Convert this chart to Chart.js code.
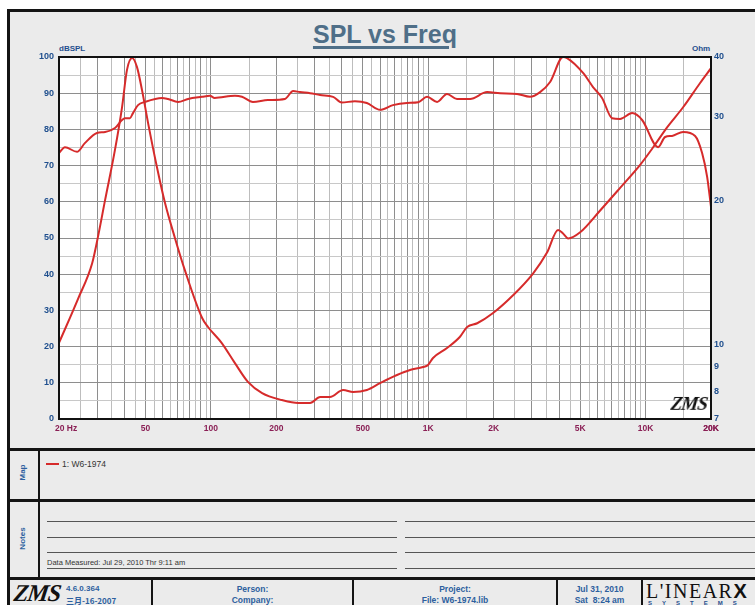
<!DOCTYPE html>
<html><head><meta charset="utf-8">
<script src="https://cdn.jsdelivr.net/npm/chart.js@4.4.1/dist/chart.umd.min.js"></script>
<style>
html,body{margin:0;padding:0;background:#fff;}
#page{position:relative;width:755px;height:605px;overflow:hidden;font-family:"Liberation Sans",Arial,sans-serif;}
.a{position:absolute;white-space:nowrap;}
.bar{position:absolute;background:#141414;}
.blue{color:#2d5f9e;font-weight:bold;}
.nl{position:absolute;height:1px;background:#555;}
</style></head><body>
<div id="page">
  <div class="a" style="left:7px;top:9px;width:800px;height:700px;background:#ebebeb;"></div>
  <div class="bar" style="left:7px;top:9px;width:800px;height:3px"></div>
  <div class="bar" style="left:7px;top:9px;width:3px;height:700px"></div>
  <div class="bar" style="left:7px;top:448px;width:800px;height:3px"></div>
  <div class="bar" style="left:7px;top:499px;width:800px;height:3px"></div>
  <div class="bar" style="left:7px;top:577px;width:800px;height:3px"></div>
  <div class="bar" style="left:38px;top:450px;width:2px;height:128px"></div>
  <div class="bar" style="left:151px;top:579px;width:2px;height:30px"></div>
  <div class="bar" style="left:352px;top:579px;width:2px;height:30px"></div>
  <div class="bar" style="left:556px;top:579px;width:2px;height:30px"></div>
  <div class="bar" style="left:641px;top:579px;width:2px;height:30px"></div>

  <div class="a" style="left:0;top:22px;width:770px;text-align:center;font-weight:bold;font-size:25px;line-height:25px;color:#4f6f88;text-decoration:underline;text-decoration-thickness:3px;text-underline-offset:3px;">SPL vs Freq</div>
  <div class="a blue" style="left:59px;top:44px;font-size:8px;color:#1f4f8e;">dBSPL</div>
  <div class="a blue" style="left:692px;top:44px;font-size:8px;color:#1f4f8e;">Ohm</div>

  <div class="a" style="left:0;top:0;width:755px;height:450px;"><canvas id="c" width="755" height="450"></canvas></div>

  <div class="a" style="left:671px;top:393px;font-family:'Liberation Serif',serif;font-style:italic;font-size:19px;font-weight:bold;color:#111;transform:skewX(-8deg);letter-spacing:-1px;">ZMS</div>

  <!-- Map section -->
  <div class="a blue" style="left:6px;top:468px;width:32px;text-align:center;font-size:8px;transform:rotate(-90deg);">Map</div>
  <div class="a" style="left:46px;top:463px;width:13px;height:2px;background:#d62b2b;"></div>
  <div class="a" style="left:62px;top:459px;font-size:8.5px;color:#333;">1: W6-1974</div>

  <!-- Notes section -->
  <div class="a blue" style="left:6px;top:534px;width:32px;text-align:center;font-size:8px;transform:rotate(-90deg);">Notes</div>
  <div class="nl" style="left:47px;top:521px;width:350px"></div>
  <div class="nl" style="left:47px;top:537px;width:350px"></div>
  <div class="nl" style="left:47px;top:552px;width:350px"></div>
  <div class="nl" style="left:47px;top:568px;width:350px"></div>
  <div class="nl" style="left:405px;top:521px;width:360px"></div>
  <div class="nl" style="left:405px;top:537px;width:360px"></div>
  <div class="nl" style="left:405px;top:552px;width:360px"></div>
  <div class="nl" style="left:405px;top:568px;width:360px"></div>
  <div class="a" style="left:47px;top:558px;font-size:7.5px;color:#333;">Data Measured: Jul 29, 2010 Thr 9:11 am</div>

  <!-- Footer -->
  <div class="a" style="left:14px;top:580px;font-family:'Liberation Serif',serif;font-style:italic;font-weight:bold;font-size:24px;color:#111;transform:skewX(-8deg);letter-spacing:-1px;">ZMS</div>
  <div class="a blue" style="left:66px;top:584px;font-size:8px;">4.6.0.364</div>
  <div class="a blue" style="left:66px;top:595px;font-size:8px;font-family:'Noto Sans CJK SC','Liberation Sans',sans-serif;">三月-16-2007</div>
  <div class="a blue" style="left:153px;top:584px;width:199px;text-align:center;font-size:8.5px;">Person:</div>
  <div class="a blue" style="left:153px;top:595px;width:199px;text-align:center;font-size:8.5px;">Company:</div>
  <div class="a blue" style="left:354px;top:584px;width:202px;text-align:center;font-size:8.5px;">Project:</div>
  <div class="a blue" style="left:354px;top:595px;width:202px;text-align:center;font-size:8.5px;">File: W6-1974.lib</div>
  <div class="a blue" style="left:558px;top:584px;width:83px;text-align:center;font-size:8.5px;">Jul 31, 2010</div>
  <div class="a blue" style="left:558px;top:595px;width:83px;text-align:center;font-size:8.5px;">Sat &nbsp;8:24 am</div>
  <div class="a" style="left:646px;top:580px;font-family:'Liberation Serif',serif;font-size:20px;letter-spacing:1.5px;color:#111;">L'INEAR<b style="font-family:'Liberation Sans',sans-serif;font-size:20px;letter-spacing:0;">X</b></div>
  <div class="a blue" style="left:648px;top:600px;font-size:6px;letter-spacing:10px;color:#1f4f8e;">SYSTEMS</div>
</div>

<script>
// ---- Data ----
const splFreq = [20,21.3,24.2,26.3,29.9,32.6,36.2,39,40.2,42.4,43.8,46.2,49.8,59.6,63.5,70.6,78.5,91,99,104,129,139,156,183,219,239,257,286,318,365,400,460,522,600,688,798,900,988,1098,1220,1356,1558,1866,2140,2563,2940,3270,3636,4172,4352,5156,5730,6306,7012,7636,8672,9640,11420,12300,13240,14880,16900,18200,19200,20000];
const splDb = [73.5,75.1,73.8,76.2,79.0,79.3,80.4,82.6,83.1,83.1,84.5,86.7,87.6,88.7,88.4,87.6,88.4,89.0,89.3,88.7,89.3,89.0,87.6,88.1,88.4,90.6,90.3,90.0,89.5,89.0,87.4,87.8,87.3,85.4,86.7,87.3,87.5,89.0,87.6,89.8,88.4,88.4,90.3,90.0,89.8,89.0,90.3,93.1,100,99.7,95.6,91.7,88.7,83.1,82.9,84.5,82.6,75.1,77.9,78.2,79.3,78.2,73.5,66.9,58.6];

const impFreq = [20,24.5,28.4,30.2,32.6,36.2,39,41.1,43.4,45.7,48.2,51.4,56.5,61.5,68.4,76,91,97,112,129,148,172,212,252,286,318,353,406,451,522,600,718,824,946,998,1052,1220,1400,1510,1680,1988,2456,3034,3520,3958,4172,4400,5000,6180,7636,9440,10840,12560,14880,17820,20000];
const impOhm = [10.1,12.5,14.8,16.8,20.1,25.6,31.4,37.6,39.8,38.1,34.1,29.1,23.5,19.8,16.7,14.3,11.4,10.9,10.1,9.16,8.37,7.93,7.67,7.56,7.56,7.78,7.78,8.05,7.97,8.05,8.32,8.65,8.86,8.99,9.08,9.39,9.85,10.4,10.9,11.1,11.66,12.7,14.1,15.6,17.4,17.1,16.7,17.2,19.1,21.3,23.8,25.9,28.5,31.4,35.3,37.9];

const xGridMultipliers = [1,1.5,2,2.5,3,3.5,4,4.5,5,5.5,6,6.5,7,7.5,8,8.5,9,9.5];
const xDecades = [10,100,1000,10000];
const xTickLabels = {20:'      20 Hz',50:'50',100:'100',200:'200',500:'500',1000:'1K',2000:'2K',5000:'5K',10000:'10K',20000:'20K'};
const ohmTicks = [7,8,9,10,20,30,40];

// ---- Chart ----
const xGridValues = [];
xDecades.forEach(d => xGridMultipliers.forEach(m => { const v = Math.round(d*m*1000)/1000; if (v >= 20 && v <= 20000) xGridValues.push(v); }));
xGridValues.push(20000);

const splPoints = splFreq.map((f,i) => ({x:f, y:splDb[i]}));
const impPoints = impFreq.map((f,i) => ({x:f, y:impOhm[i]}));

const plotFrame = {
  id:'plotFrame',
  beforeDraw(chart){const {ctx, chartArea:a} = chart; ctx.save(); ctx.fillStyle='#fff'; ctx.fillRect(a.left,a.top,a.width,a.height); ctx.restore();},
  afterDraw(chart){const {ctx, chartArea:a} = chart; ctx.save(); ctx.strokeStyle='#111'; ctx.lineWidth=2; ctx.strokeRect(a.left,a.top,a.width,a.height); ctx.restore();}
};

const tickFontY = {family:'Liberation Sans', size:9, weight:'bold'};
const red = '#d62b2b';

new Chart(document.getElementById('c'), {
  type:'line',
  data:{datasets:[
    {label:'SPL', data:splPoints, yAxisID:'y', borderColor:red, borderWidth:2, pointRadius:0, cubicInterpolationMode:'monotone', fill:false},
    {label:'Impedance', data:impPoints, yAxisID:'y2', borderColor:red, borderWidth:2, pointRadius:0, cubicInterpolationMode:'monotone', fill:false}
  ]},
  options:{
    responsive:false, animation:false, devicePixelRatio:1,
    layout:{padding:{top:57,left:0,right:0,bottom:0}},
    plugins:{legend:{display:false}, tooltip:{enabled:false}},
    scales:{
      x:{type:'logarithmic', min:20, max:20000, position:'bottom',
        afterBuildTicks(s){ s.ticks = xGridValues.map(v => ({value:v})); },
        afterFit(s){ s.height = 31; },
        border:{display:false},
        grid:{drawTicks:false, lineWidth:1, color(ctx){ const v = ctx.tick ? ctx.tick.value : 0; const m = v/Math.pow(10,Math.floor(Math.log10(v)+1e-9)); return Math.abs(m-Math.round(m))<1e-6 ? '#8e8e8e' : '#bdbdbd'; }},
        ticks:{autoSkip:false, maxRotation:0, minRotation:0, padding:5, color:'#8a1f55', font:{family:'Liberation Sans', size:8.5, weight:'bold'},
          callback(v){ return xTickLabels[v] !== undefined ? xTickLabels[v] : ''; }}
      },
      y:{type:'linear', min:0, max:100, position:'left',
        afterFit(s){ s.width = 59; },
        border:{display:false},
        grid:{drawTicks:false, lineWidth:1, color(ctx){ const v = ctx.tick ? ctx.tick.value : 0; return v % 10 === 0 ? '#8e8e8e' : '#c8c8c8'; }},
        ticks:{stepSize:5, padding:5, color:'#1f4f8e', font:tickFontY, callback(v){ return v % 10 === 0 ? String(v) : ''; }}
      },
      y2:{type:'logarithmic', min:7, max:40, position:'right',
        afterBuildTicks(s){ s.ticks = ohmTicks.map(v => ({value:v})); },
        afterFit(s){ s.width = 44; },
        border:{display:false},
        grid:{display:false, drawTicks:false},
        ticks:{autoSkip:false, padding:3, color:'#1f4f8e', font:tickFontY, callback(v){ return ohmTicks.includes(v) ? String(v) : ''; }}
      }
    }
  },
  plugins:[plotFrame]
});
</script>
</body></html>
